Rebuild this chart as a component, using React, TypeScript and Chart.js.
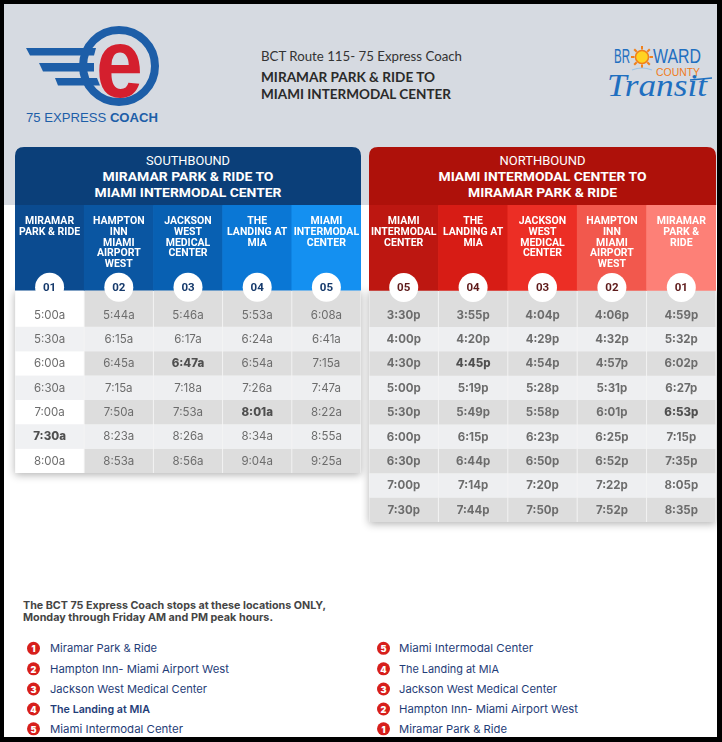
import React, { useEffect, useRef } from "react";
import { Chart, registerables } from "chart.js";
Chart.register(...registerables);

// ---------------- data ----------------
const southStopIds = ["01", "02", "03", "04", "05"];
const southStopNames = [
  "MIRAMAR\nPARK & RIDE",
  "HAMPTON\nINN\nMIAMI\nAIRPORT\nWEST",
  "JACKSON\nWEST\nMEDICAL\nCENTER",
  "THE\nLANDING AT\nMIA",
  "MIAMI\nINTERMODAL\nCENTER",
];
const southMiramar = ["5:00a", "5:30a", "6:00a", "6:30a", "7:00a", "7:30a", "8:00a"];
const southHampton = ["5:44a", "6:15a", "6:45a", "7:15a", "7:50a", "8:23a", "8:53a"];
const southJackson = ["5:46a", "6:17a", "6:47a", "7:18a", "7:53a", "8:26a", "8:56a"];
const southLanding = ["5:53a", "6:24a", "6:54a", "7:26a", "8:01a", "8:34a", "9:04a"];
const southMiami = ["6:08a", "6:41a", "7:15a", "7:47a", "8:22a", "8:55a", "9:25a"];
const southBold: [number, number][] = [[0, 5], [2, 2], [3, 4]];

const northStopIds = ["05", "04", "03", "02", "01"];
const northStopNames = [
  "MIAMI\nINTERMODAL\nCENTER",
  "THE\nLANDING AT\nMIA",
  "JACKSON\nWEST\nMEDICAL\nCENTER",
  "HAMPTON\nINN\nMIAMI\nAIRPORT\nWEST",
  "MIRAMAR\nPARK &\nRIDE",
];
const northMiami = ["3:30p", "4:00p", "4:30p", "5:00p", "5:30p", "6:00p", "6:30p", "7:00p", "7:30p"];
const northLanding = ["3:55p", "4:20p", "4:45p", "5:19p", "5:49p", "6:15p", "6:44p", "7:14p", "7:44p"];
const northJackson = ["4:04p", "4:29p", "4:54p", "5:28p", "5:58p", "6:23p", "6:50p", "7:20p", "7:50p"];
const northHampton = ["4:06p", "4:32p", "4:57p", "5:31p", "6:01p", "6:25p", "6:52p", "7:22p", "7:52p"];
const northMiramar = ["4:59p", "5:32p", "6:02p", "6:27p", "6:53p", "7:15p", "7:35p", "8:05p", "8:35p"];
const northBold: [number, number][] = [[1, 2], [4, 4]];

const southboundList = [
  "Miramar Park & Ride",
  "Hampton Inn- Miami Airport West",
  "Jackson West Medical Center",
  "The Landing at MIA",
  "Miami Intermodal Center",
];
const southboundNumbers = ["1", "2", "3", "4", "5"];
const northboundList = [
  "Miami Intermodal Center",
  "The Landing at MIA",
  "Jackson West Medical Center",
  "Hampton Inn- Miami Airport West",
  "Miramar Park & Ride",
];
const northboundNumbers = ["5", "4", "3", "2", "1"];

// ---------------- styles ----------------
const SOUTH_HEADER = ["#0b4b90", "#0a56a2", "#0860b2", "#0a77d5", "#1490f1"];
const NORTH_HEADER = ["#bd1711", "#d71c15", "#ec2e25", "#f2584d", "#fd8077"];
const ROW_H = 24.4;

type TTProps = {
  ids: string[];
  names: string[];
  columns: string[][];
  headerColors: string[];
  bold: [number, number][];
  whiteFirstCol: boolean;
  baseWeight: string;
  idColor: string;
  left: number;
  top: number;
  width: number;
};

function Timetable(p: TTProps) {
  const ref = useRef<HTMLCanvasElement | null>(null);
  const nRows = p.columns[0].length;
  const padX = 8;
  const padB = 12;
  const cw = p.width + padX * 2;
  const ch = (nRows + 4) * ROW_H + padB;

  useEffect(() => {
    if (!ref.current) return;
    const cellColor = (r: number, c: number) => {
      if (p.whiteFirstCol && c === 0) return r % 2 === 0 ? "#ffffff" : "#f0f1f3";
      return r % 2 === 0 ? "#dddddd" : "#eeeff1";
    };
    const datasets: any[] = [
      {
        label: "stops",
        data: p.ids.map(() => [-4, -0.5]),
        backgroundColor: p.headerColors,
        barPercentage: 1,
        categoryPercentage: 1,
        grouped: false,
        borderWidth: 0,
      },
    ];
    for (let r = 0; r < nRows; r++) {
      datasets.push({
        label: "trip " + (r + 1),
        data: p.ids.map(() => [r === 0 ? -0.5 : r, r + 1]),
        backgroundColor: p.ids.map((_, c) => cellColor(r, c)),
        barPercentage: 0.986,
        categoryPercentage: 1,
        grouped: false,
        borderWidth: 0,
      });
    }
    const isBold = (c: number, r: number) => p.bold.some(([bc, br]) => bc === c && br === r);

    const tablePlugin = {
      id: "tableDecor",
      beforeDatasetsDraw(chart: any) {
        const ctx = chart.ctx;
        const ys = chart.scales.y;
        const a = chart.chartArea;
        const y0 = ys.getPixelForValue(-0.5);
        const y1 = ys.getPixelForValue(nRows);
        ctx.save();
        ctx.shadowColor = "rgba(0,0,0,0.30)";
        ctx.shadowBlur = 8;
        ctx.shadowOffsetY = 2;
        ctx.fillStyle = "#f4f4f4";
        ctx.fillRect(a.left, y0, a.right - a.left, y1 - y0);
        ctx.restore();
      },
      afterDatasetsDraw(chart: any) {
        const ctx = chart.ctx;
        const ys = chart.scales.y;
        const meta0 = chart.getDatasetMeta(0);
        const top = ys.getPixelForValue(-4);
        ctx.save();
        ctx.textAlign = "center";
        ctx.textBaseline = "middle";
        p.ids.forEach((id, c) => {
          const x = meta0.data[c].x;
          ctx.fillStyle = "#ffffff";
          ctx.font = "bold 10.5px Roboto";
          p.names[c].split("\n").forEach((line, i) => {
            ctx.fillText(line, x, top + 16.5 + i * 10.7);
          });
          const cy = ys.getPixelForValue(-0.62);
          ctx.beginPath();
          ctx.arc(x, cy, 14.5, 0, Math.PI * 2);
          ctx.fillStyle = "#ffffff";
          ctx.fill();
          ctx.fillStyle = p.idColor;
          ctx.font = "bold 11.5px Roboto";
          ctx.fillText(id, x, cy + 0.5);
        });
        p.columns.forEach((col, c) => {
          col.forEach((t, r) => {
            const el = chart.getDatasetMeta(r + 1).data[c];
            const y = ys.getPixelForValue(r + 0.5);
            const b = isBold(c, r);
            ctx.font = (b ? "800" : p.baseWeight) + " 11.5px Inter";
            ctx.fillStyle = b ? "#4f4f4f" : "#6c6c6c";
            ctx.fillText(t, el.x, y + 0.5);
          });
        });
        ctx.restore();
      },
    };

    const chart = new Chart(ref.current, {
      type: "bar",
      data: { labels: p.ids, datasets },
      options: {
        animation: false,
        responsive: false,
        devicePixelRatio: 1,
        layout: { padding: { left: padX, right: padX, top: 0, bottom: padB } },
        scales: {
          x: { type: "category", display: false, offset: true },
          y: { type: "linear", display: false, min: -4, max: nRows, reverse: true },
        },
        plugins: { legend: { display: false }, tooltip: { enabled: false } },
        events: [],
      },
      plugins: [tablePlugin],
    } as any);
    return () => chart.destroy();
  }, []);

  return (
    <canvas
      ref={ref}
      width={cw}
      height={ch}
      style={{ position: "absolute", left: p.left - padX, top: p.top, width: cw, height: ch }}
    />
  );
}

function band(x: number, y: number, w: number, h: number, r: number) {
  return `M${x},${y + h} L${x},${y + r} Q${x},${y} ${x + r},${y} L${x + w - r},${y} Q${x + w},${y} ${x + w},${y + r} L${x + w},${y + h} Z`;
}

export default function App() {
  useEffect(() => {
    document.body.style.margin = "0";
  }, []);
  const listY = [648.3, 668.8, 689, 709, 728.8];
  const leftW = [107, 179, 157, 100, 133];
  const rightW = [134, 100, 158, 179, 108];
  const sunRays = [0, 45, 90, 135, 180, 225, 270, 315];
  return (
    <div style={{ position: "fixed", left: 0, top: 0, width: 722, height: 742, background: "#000", overflow: "hidden" }}>
      <svg width={722} height={742} style={{ position: "absolute", left: 0, top: 0 }}>
        <rect x={4} y={4} width={713} height={733} fill="#ffffff" />
        <rect x={4} y={4} width={713} height={201} fill="#d6dae1" />
        {/* 75 express coach logo */}
        <circle cx={119} cy={66} r={36} fill="none" stroke="#1d5ea8" strokeWidth={8} />
        <polygon points="26,48 96,48 94,55.5 30,55.5" fill="#1d5ea8" />
        <polygon points="39,63 94,63 94,71.5 43,71.5" fill="#1d5ea8" />
        <polygon points="55,78 97,78 100,85.5 58,85.5" fill="#1d5ea8" />
        <text
          transform="translate(119.5,96.5) scale(0.86,1)"
          textAnchor="middle"
          fontFamily="Liberation Sans"
          fontWeight="bold"
          fontSize={98}
          fill="#d41f2e"
        >
          e
        </text>
        <text x={26} y={122} fontFamily="Liberation Sans" fontSize={13.5} fill="#1d5ea8" textLength={132} lengthAdjust="spacingAndGlyphs">
          75 EXPRESS <tspan fontWeight="bold">COACH</tspan>
        </text>
        {/* route title */}
        <text x={261} y={61} fontFamily="Lato" fontSize={12.5} fill="#333" textLength={201} lengthAdjust="spacingAndGlyphs">
          BCT Route 115- 75 Express Coach
        </text>
        <text x={261} y={81.5} fontFamily="Lato" fontWeight="bold" fontSize={12.5} fill="#2a2a2a" textLength={174} lengthAdjust="spacingAndGlyphs">
          MIRAMAR PARK &amp; RIDE TO
        </text>
        <text x={261} y={98.5} fontFamily="Lato" fontWeight="bold" fontSize={12.5} fill="#2a2a2a" textLength={190} lengthAdjust="spacingAndGlyphs">
          MIAMI INTERMODAL CENTER
        </text>
        {/* broward county transit logo */}
        <text x={614} y={63} fontFamily="Liberation Sans" fontSize={19.5} fill="#1f6fc0" textLength={16} lengthAdjust="spacingAndGlyphs">
          BR
        </text>
        <text x={653} y={63} fontFamily="Liberation Sans" fontSize={19.5} fill="#1f6fc0" textLength={48} lengthAdjust="spacingAndGlyphs">
          WARD
        </text>
        {sunRays.map((a) => (
          <line
            key={a}
            x1={642 + 7.5 * Math.cos((a * Math.PI) / 180)}
            y1={57 + 7.5 * Math.sin((a * Math.PI) / 180)}
            x2={642 + 11 * Math.cos((a * Math.PI) / 180)}
            y2={57 + 11 * Math.sin((a * Math.PI) / 180)}
            stroke="#f0801c"
            strokeWidth={2}
          />
        ))}
        <circle cx={642} cy={57} r={6.5} fill="#ffd322" stroke="#f0801c" strokeWidth={1.5} />
        <path d="M632,70 Q642,66 652,70" stroke="#9fc5e8" strokeWidth={1.2} fill="none" />
        <text x={656} y={76} fontFamily="Liberation Sans" fontSize={10.5} fill="#f07a1a" textLength={44} lengthAdjust="spacingAndGlyphs">
          COUNTY
        </text>
        <text x={607} y={96} fontFamily="Liberation Serif" fontStyle="italic" fontSize={32} fill="#1f6fc0" textLength={100} lengthAdjust="spacingAndGlyphs">
          Transit
        </text>
        <path d="M690,80 Q702,79 712,78" stroke="#1f6fc0" strokeWidth={1.5} fill="none" />
        {/* southbound band */}
        <path d={band(15, 147, 346, 59, 9)} fill="#0b3f79" />
        <text x={188} y={161} textAnchor="middle" dominantBaseline="central" fontFamily="Roboto" fontSize={12} fill="#fff" textLength={84} lengthAdjust="spacingAndGlyphs">
          SOUTHBOUND
        </text>
        <text x={188} y={176.5} textAnchor="middle" dominantBaseline="central" fontFamily="Roboto" fontWeight="bold" fontSize={13} fill="#fff" textLength={171} lengthAdjust="spacingAndGlyphs">
          MIRAMAR PARK &amp; RIDE TO
        </text>
        <text x={188} y={192} textAnchor="middle" dominantBaseline="central" fontFamily="Roboto" fontWeight="bold" fontSize={13} fill="#fff" textLength={187} lengthAdjust="spacingAndGlyphs">
          MIAMI INTERMODAL CENTER
        </text>
        {/* northbound band */}
        <path d={band(369, 147, 347, 59, 9)} fill="#ae110a" />
        <text x={542.5} y={161} textAnchor="middle" dominantBaseline="central" fontFamily="Roboto" fontSize={12} fill="#fff" textLength={86} lengthAdjust="spacingAndGlyphs">
          NORTHBOUND
        </text>
        <text x={542.5} y={176.5} textAnchor="middle" dominantBaseline="central" fontFamily="Roboto" fontWeight="bold" fontSize={13} fill="#fff" textLength={208} lengthAdjust="spacingAndGlyphs">
          MIAMI INTERMODAL CENTER TO
        </text>
        <text x={542.5} y={192} textAnchor="middle" dominantBaseline="central" fontFamily="Roboto" fontWeight="bold" fontSize={13} fill="#fff" textLength={149} lengthAdjust="spacingAndGlyphs">
          MIRAMAR PARK &amp; RIDE
        </text>
        {/* notes */}
        <text x={23} y={605} dominantBaseline="central" fontFamily="Inter" fontWeight="bold" fontSize={10.5} fill="#454545" textLength={303} lengthAdjust="spacingAndGlyphs">
          The BCT 75 Express Coach stops at these locations ONLY,
        </text>
        <text x={23} y={617} dominantBaseline="central" fontFamily="Inter" fontWeight="bold" fontSize={10.5} fill="#454545" textLength={250} lengthAdjust="spacingAndGlyphs">
          Monday through Friday AM and PM peak hours.
        </text>
        {southboundList.map((s, i) => (
          <g key={"l" + i}>
            <circle cx={33.5} cy={listY[i]} r={6.5} fill="#d71f1c" />
            <text x={33.5} y={listY[i] + 0.5} textAnchor="middle" dominantBaseline="central" fontFamily="Inter" fontWeight="900" fontSize={9} fill="#fff">
              {southboundNumbers[i]}
            </text>
            <text x={50} y={listY[i]} dominantBaseline="central" fontFamily="Inter" fontWeight={i === 3 ? 600 : 400} fontSize={11} fill="#1f3d78" textLength={leftW[i]} lengthAdjust="spacingAndGlyphs">
              {s}
            </text>
          </g>
        ))}
        {northboundList.map((s, i) => (
          <g key={"r" + i}>
            <circle cx={383.5} cy={listY[i]} r={6.5} fill="#d71f1c" />
            <text x={383.5} y={listY[i] + 0.5} textAnchor="middle" dominantBaseline="central" fontFamily="Inter" fontWeight="900" fontSize={9} fill="#fff">
              {northboundNumbers[i]}
            </text>
            <text x={399} y={listY[i]} dominantBaseline="central" fontFamily="Inter" fontSize={11} fill="#1f3d78" textLength={rightW[i]} lengthAdjust="spacingAndGlyphs">
              {s}
            </text>
          </g>
        ))}
      </svg>
      <Timetable
        ids={southStopIds}
        names={southStopNames}
        columns={[southMiramar, southHampton, southJackson, southLanding, southMiami]}
        headerColors={SOUTH_HEADER}
        bold={southBold}
        whiteFirstCol={true}
        baseWeight="400"
        idColor="#163a6c"
        left={15}
        top={205}
        width={346}
      />
      <Timetable
        ids={northStopIds}
        names={northStopNames}
        columns={[northMiami, northLanding, northJackson, northHampton, northMiramar]}
        headerColors={NORTH_HEADER}
        bold={northBold}
        whiteFirstCol={false}
        baseWeight="bold"
        idColor="#5e1a1a"
        left={369}
        top={205}
        width={347}
      />
    </div>
  );
}
